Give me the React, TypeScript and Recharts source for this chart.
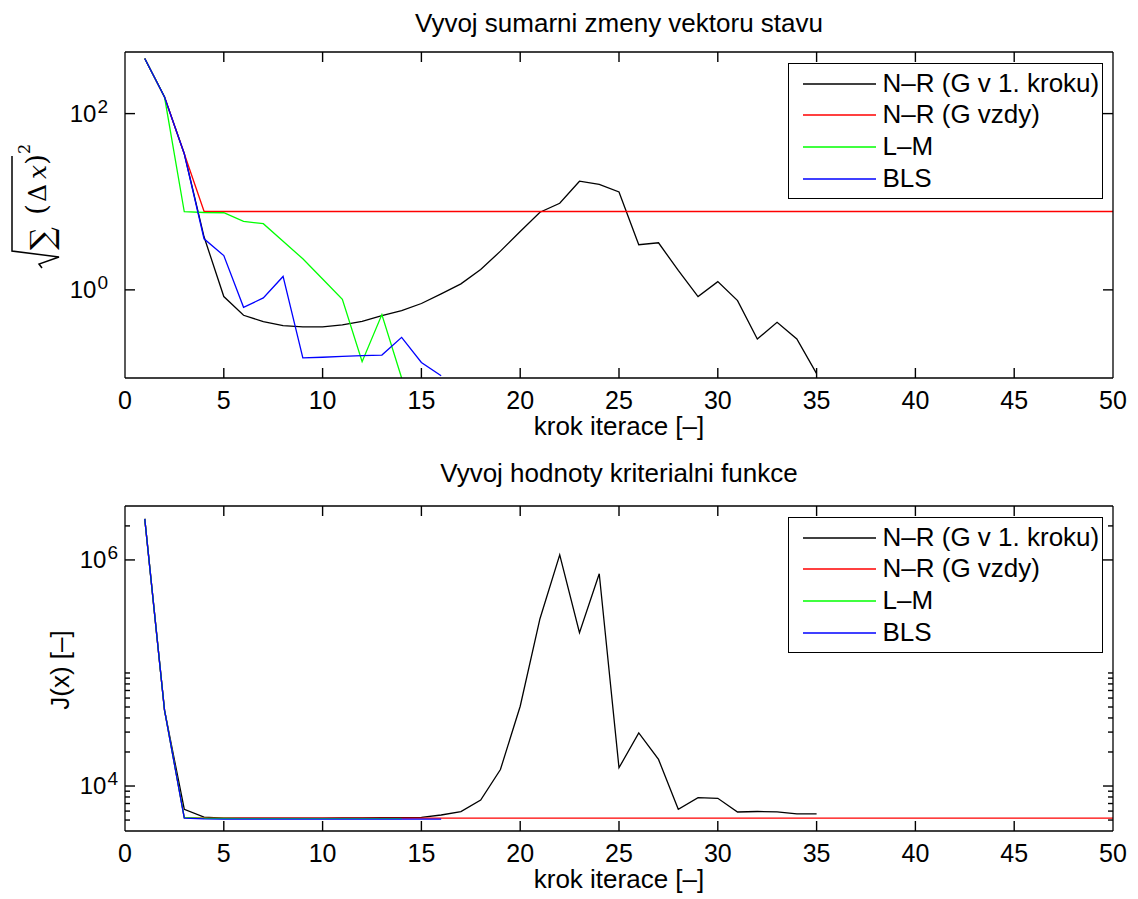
import { Label, Legend, Line, LineChart, XAxis, YAxis } from 'recharts';

const FONT = '"Liberation Sans", Arial, Helvetica, sans-serif';
const MATH_FONT = '"DejaVu Serif", "Liberation Serif", serif';

const iterTicks = [0, 5, 10, 15, 20, 25, 30, 35, 40, 45, 50];
const seriesNames = ['N–R (G v 1. kroku)', 'N–R (G vzdy)', 'L–M', 'BLS'];
const seriesColors = ['#000000', '#ff0000', '#00ff00', '#0000ff'];

// top panel: sqrt(sum(dx^2)) per iteration
const topBlack = [
  422, 154, 35, 4.0, 0.84, 0.515, 0.436, 0.393, 0.38, 0.38,
  0.40, 0.44, 0.51, 0.58, 0.70, 0.90, 1.17, 1.70, 2.75, 4.6,
  7.6, 9.6, 17.1, 15.7, 12.9, 3.25, 3.42, 1.66, 0.84, 1.24,
  0.755, 0.277, 0.428, 0.277, 0.112,
];
const topRed = [
  422, 154, 35, 7.8, 7.75, 7.75, 7.75, 7.75, 7.75, 7.75,
  7.75, 7.75, 7.75, 7.75, 7.75, 7.75, 7.75, 7.75, 7.75, 7.75,
  7.75, 7.75, 7.75, 7.75, 7.75, 7.75, 7.75, 7.75, 7.75, 7.75,
  7.75, 7.75, 7.75, 7.75, 7.75, 7.75, 7.75, 7.75, 7.75, 7.75,
  7.75, 7.75, 7.75, 7.75, 7.75, 7.75, 7.75, 7.75, 7.75, 7.75,
];
const topGreen = [422, 154, 7.7, 7.55, 7.5, 6.0, 5.63, 3.57, 2.25, 1.33, 0.78, 0.153, 0.524, 0.1];
const topBlue = [
  422, 154, 35, 3.8, 2.45, 0.634, 0.81, 1.42, 0.169, 0.172,
  0.176, 0.179, 0.182, 0.289, 0.15, 0.106,
];

// bottom panel: J(x) per iteration
const botBlack = [
  2.31e6, 46900, 6230, 5300, 5210, 5200, 5200, 5200, 5200, 5210,
  5220, 5230, 5240, 5260, 5290, 5540, 5930, 7500, 14000, 50800,
  302000, 1110000, 227000, 754000, 14500, 29500, 17200, 6230, 7900, 7780,
  5890, 5950, 5900, 5660, 5660,
];
const botRed = [
  2.31e6, 46900, 5250, 5200, 5200, 5200, 5200, 5200, 5200, 5200,
  5200, 5200, 5200, 5200, 5200, 5200, 5200, 5200, 5200, 5200,
  5200, 5200, 5200, 5200, 5200, 5200, 5200, 5200, 5200, 5200,
  5200, 5200, 5200, 5200, 5200, 5200, 5200, 5200, 5200, 5200,
  5200, 5200, 5200, 5200, 5200, 5200, 5200, 5200, 5200, 5200,
];
const botGreen = [2.31e6, 46900, 5250, 5170, 5160, 5150, 5150, 5150, 5150, 5150, 5150, 5150, 5150, 5150];
const botBlue = [
  2.31e6, 46900, 5200, 5120, 5100, 5100, 5100, 5100, 5100, 5100,
  5100, 5100, 5100, 5100, 5100, 5100,
];

const topMajor = [1, 100];
const topMinor: number[] = [];
const botMajor = [1e4, 1e6];
const botMinor = [5e3, 6e3, 7e3, 8e3, 9e3, 2e4, 3e4, 4e4, 5e4, 6e4, 7e4, 8e4, 9e4, 1e5, 2e6];

const toPoints = (vals: number[]) => vals.map((v, i) => ({ k: i + 1, v }));

const PLOT_LEFT = 125;
const PLOT_RIGHT = 1113;
const X_MAX = 50;

function XTick(props: any) {
  const { x, y, payload } = props;
  return (
    <text x={x} y={y} dy="0.71em" textAnchor="middle" fill="#000" fontFamily={FONT} fontSize={25}>
      {payload.value}
    </text>
  );
}

function YTick(props: any) {
  const { x, y, payload, majors } = props;
  if (!majors.includes(payload.value)) return <g />;
  const exp = Math.round(Math.log10(payload.value));
  return (
    <text x={x} y={y} textAnchor="end" fill="#000" fontFamily={FONT} fontSize={24}>
      <tspan dy={8}>10</tspan>
      <tspan dy={-9} dx={1} fontSize={19}>{exp}</tspan>
    </text>
  );
}

function MatlabLegend() {
  return (
    <div
      style={{
        width: 315,
        height: 136,
        boxSizing: 'border-box',
        border: '1.5px solid #000',
        background: '#fff',
        paddingTop: 4,
        fontFamily: FONT,
        fontSize: 26,
        color: '#000',
      }}
    >
      {seriesNames.map((name, i) => (
        <div key={name} style={{ display: 'flex', alignItems: 'center', height: 31.7 }}>
          <svg width={73} height={6} style={{ marginLeft: 13.5, marginRight: 7, display: 'block' }}>
            <line x1={0} x2={73} y1={3} y2={3} stroke={seriesColors[i]} strokeWidth={1.3} />
          </svg>
          <span style={{ whiteSpace: 'nowrap', lineHeight: '31.7px' }}>{name}</span>
        </div>
      ))}
    </div>
  );
}

function SqrtLabel() {
  return (
    <g transform="translate(12 268) rotate(-90)">
      <path d="M0 30 L4 27 L11 47 L17 0 L112 0" fill="none" stroke="#000" strokeWidth={1.5} />
      <text fill="#000" fontFamily={MATH_FONT}>
        <tspan x={18} y={41} fontSize={32}>∑</tspan>
        <tspan x={53} y={34} fontSize={28}>(</tspan>
        <tspan x={66} y={34} fontSize={25}>Δ</tspan>
        <tspan x={89} y={34} fontSize={25} fontStyle="italic">x</tspan>
        <tspan x={103} y={34} fontSize={28}>)</tspan>
        <tspan x={114} y={18} fontSize={16}>2</tspan>
      </text>
    </g>
  );
}

function JLabel() {
  return (
    <text
      x={60}
      y={220}
      transform="rotate(-90 60 220)"
      textAnchor="middle"
      dominantBaseline="central"
      fontSize={26}
      fontFamily={FONT}
      fill="#000"
    >
      J(x) [–]
    </text>
  );
}

interface PanelProps {
  top: number;
  height: number;
  plotTop: number;
  plotBottom: number;
  title: string;
  series: number[][];
  yDomain: [number, number];
  yMajor: number[];
  yMinor: number[];
  labelGap: number;
  yLabel: (p: any) => any;
  legendTop: number;
}

// MATLAB-style inward tick marks, laid over the chart box
function TickOverlay({ p }: { p: PanelProps }) {
  const [yMin, yMax] = p.yDomain;
  const px = (t: number) => PLOT_LEFT + (t / X_MAX) * (PLOT_RIGHT - PLOT_LEFT);
  const py = (v: number) =>
    p.plotBottom - (Math.log10(v / yMin) / Math.log10(yMax / yMin)) * (p.plotBottom - p.plotTop);
  const yTicks = [...p.yMajor, ...p.yMinor];
  const s = { stroke: '#000', strokeWidth: 1.4 };
  return (
    <svg
      width={1138}
      height={p.height}
      style={{ position: 'absolute', left: 0, top: 0, pointerEvents: 'none', zIndex: 3 }}
    >
      {iterTicks.slice(1, -1).map((t) => (
        <g key={`x${t}`}>
          <line x1={px(t)} x2={px(t)} y1={p.plotBottom} y2={p.plotBottom - 10} {...s} />
          <line x1={px(t)} x2={px(t)} y1={p.plotTop} y2={p.plotTop + 10} {...s} />
        </g>
      ))}
      {yTicks.map((v) => {
        const len = p.yMajor.includes(v) ? 10 : 5;
        return (
          <g key={`y${v}`}>
            <line x1={PLOT_LEFT} x2={PLOT_LEFT + len} y1={py(v)} y2={py(v)} {...s} />
            <line x1={PLOT_RIGHT} x2={PLOT_RIGHT - len} y1={py(v)} y2={py(v)} {...s} />
          </g>
        );
      })}
    </svg>
  );
}

function Panel(p: PanelProps) {
  const axisStroke = { stroke: '#000', strokeWidth: 1.3 };
  const yTicks = [...p.yMajor, ...p.yMinor].sort((a, b) => a - b);
  return (
    <div style={{ position: 'absolute', left: 0, top: p.top, width: 1138, height: p.height }}>
      <div
        style={{
          position: 'absolute',
          left: 619,
          top: 9.7,
          transform: 'translateX(-50%)',
          fontFamily: FONT,
          fontSize: 26,
          lineHeight: 1,
          whiteSpace: 'nowrap',
          color: '#000',
          zIndex: 2,
        }}
      >
        {p.title}
      </div>
      <LineChart
        width={1138}
        height={p.height}
        margin={{ top: p.plotTop, right: 25, bottom: p.height - p.plotBottom - 30, left: 65 }}
      >
        <XAxis
          xAxisId="b"
          type="number"
          dataKey="k"
          domain={[0, X_MAX]}
          ticks={iterTicks}
          interval={0}
          allowDataOverflow
          height={30}
          tickSize={0}
          tickMargin={13.5}
          axisLine={axisStroke}
          tickLine={false}
          tick={<XTick />}
        >
          <Label value="krok iterace [–]" position="bottom" offset={8.5} fill="#000" fontSize={26} fontFamily={FONT} />
        </XAxis>
        <YAxis
          yAxisId="l"
          type="number"
          scale="log"
          domain={p.yDomain}
          ticks={yTicks}
          interval={0}
          allowDataOverflow
          width={60}
          tickSize={0}
          tickMargin={p.labelGap}
          axisLine={axisStroke}
          tickLine={false}
          tick={<YTick majors={p.yMajor} />}
        >
          <Label content={p.yLabel} />
        </YAxis>
        {/* top and right edges of the box */}
        <XAxis
          xAxisId="tm"
          type="number"
          domain={[0, X_MAX]}
          allowDataOverflow
          orientation="top"
          mirror
          height={1}
          tick={false}
          tickLine={false}
          axisLine={axisStroke}
        />
        <YAxis
          yAxisId="rm"
          type="number"
          scale="log"
          domain={p.yDomain}
          allowDataOverflow
          orientation="right"
          mirror
          width={1}
          tick={false}
          tickLine={false}
          axisLine={axisStroke}
        />
        {p.series.map((vals, i) => (
          <Line
            key={seriesNames[i]}
            xAxisId="b"
            yAxisId="l"
            data={toPoints(vals)}
            dataKey="v"
            name={seriesNames[i]}
            stroke={seriesColors[i]}
            strokeWidth={1.3}
            dot={false}
            activeDot={false}
            isAnimationActive={false}
          />
        ))}
        <Legend
          layout="horizontal"
          align="center"
          verticalAlign="middle"
          content={<MatlabLegend />}
          wrapperStyle={{ top: p.legendTop, left: 788, width: 315, height: 136 }}
        />
      </LineChart>
      <TickOverlay p={p} />
    </div>
  );
}

export default function App() {
  return (
    <div style={{ position: 'absolute', left: 0, top: 0, width: 1138, height: 899, background: '#fff' }}>
      <Panel
        top={0}
        height={450}
        plotTop={52}
        plotBottom={378}
        title="Vyvoj sumarni zmeny vektoru stavu"
        series={[topBlack, topRed, topGreen, topBlue]}
        yDomain={[0.1, 500]}
        yMajor={topMajor}
        yMinor={topMinor}
        labelGap={17}
        yLabel={SqrtLabel}
        legendTop={62.7}
      />
      <Panel
        top={450}
        height={449}
        plotTop={56}
        plotBottom={381}
        title="Vyvoj hodnoty kriterialni funkce"
        series={[botBlack, botRed, botGreen, botBlue]}
        yDomain={[4000, 3e6]}
        yMajor={botMajor}
        yMinor={botMinor}
        labelGap={7}
        yLabel={JLabel}
        legendTop={66.7}
      />
    </div>
  );
}
